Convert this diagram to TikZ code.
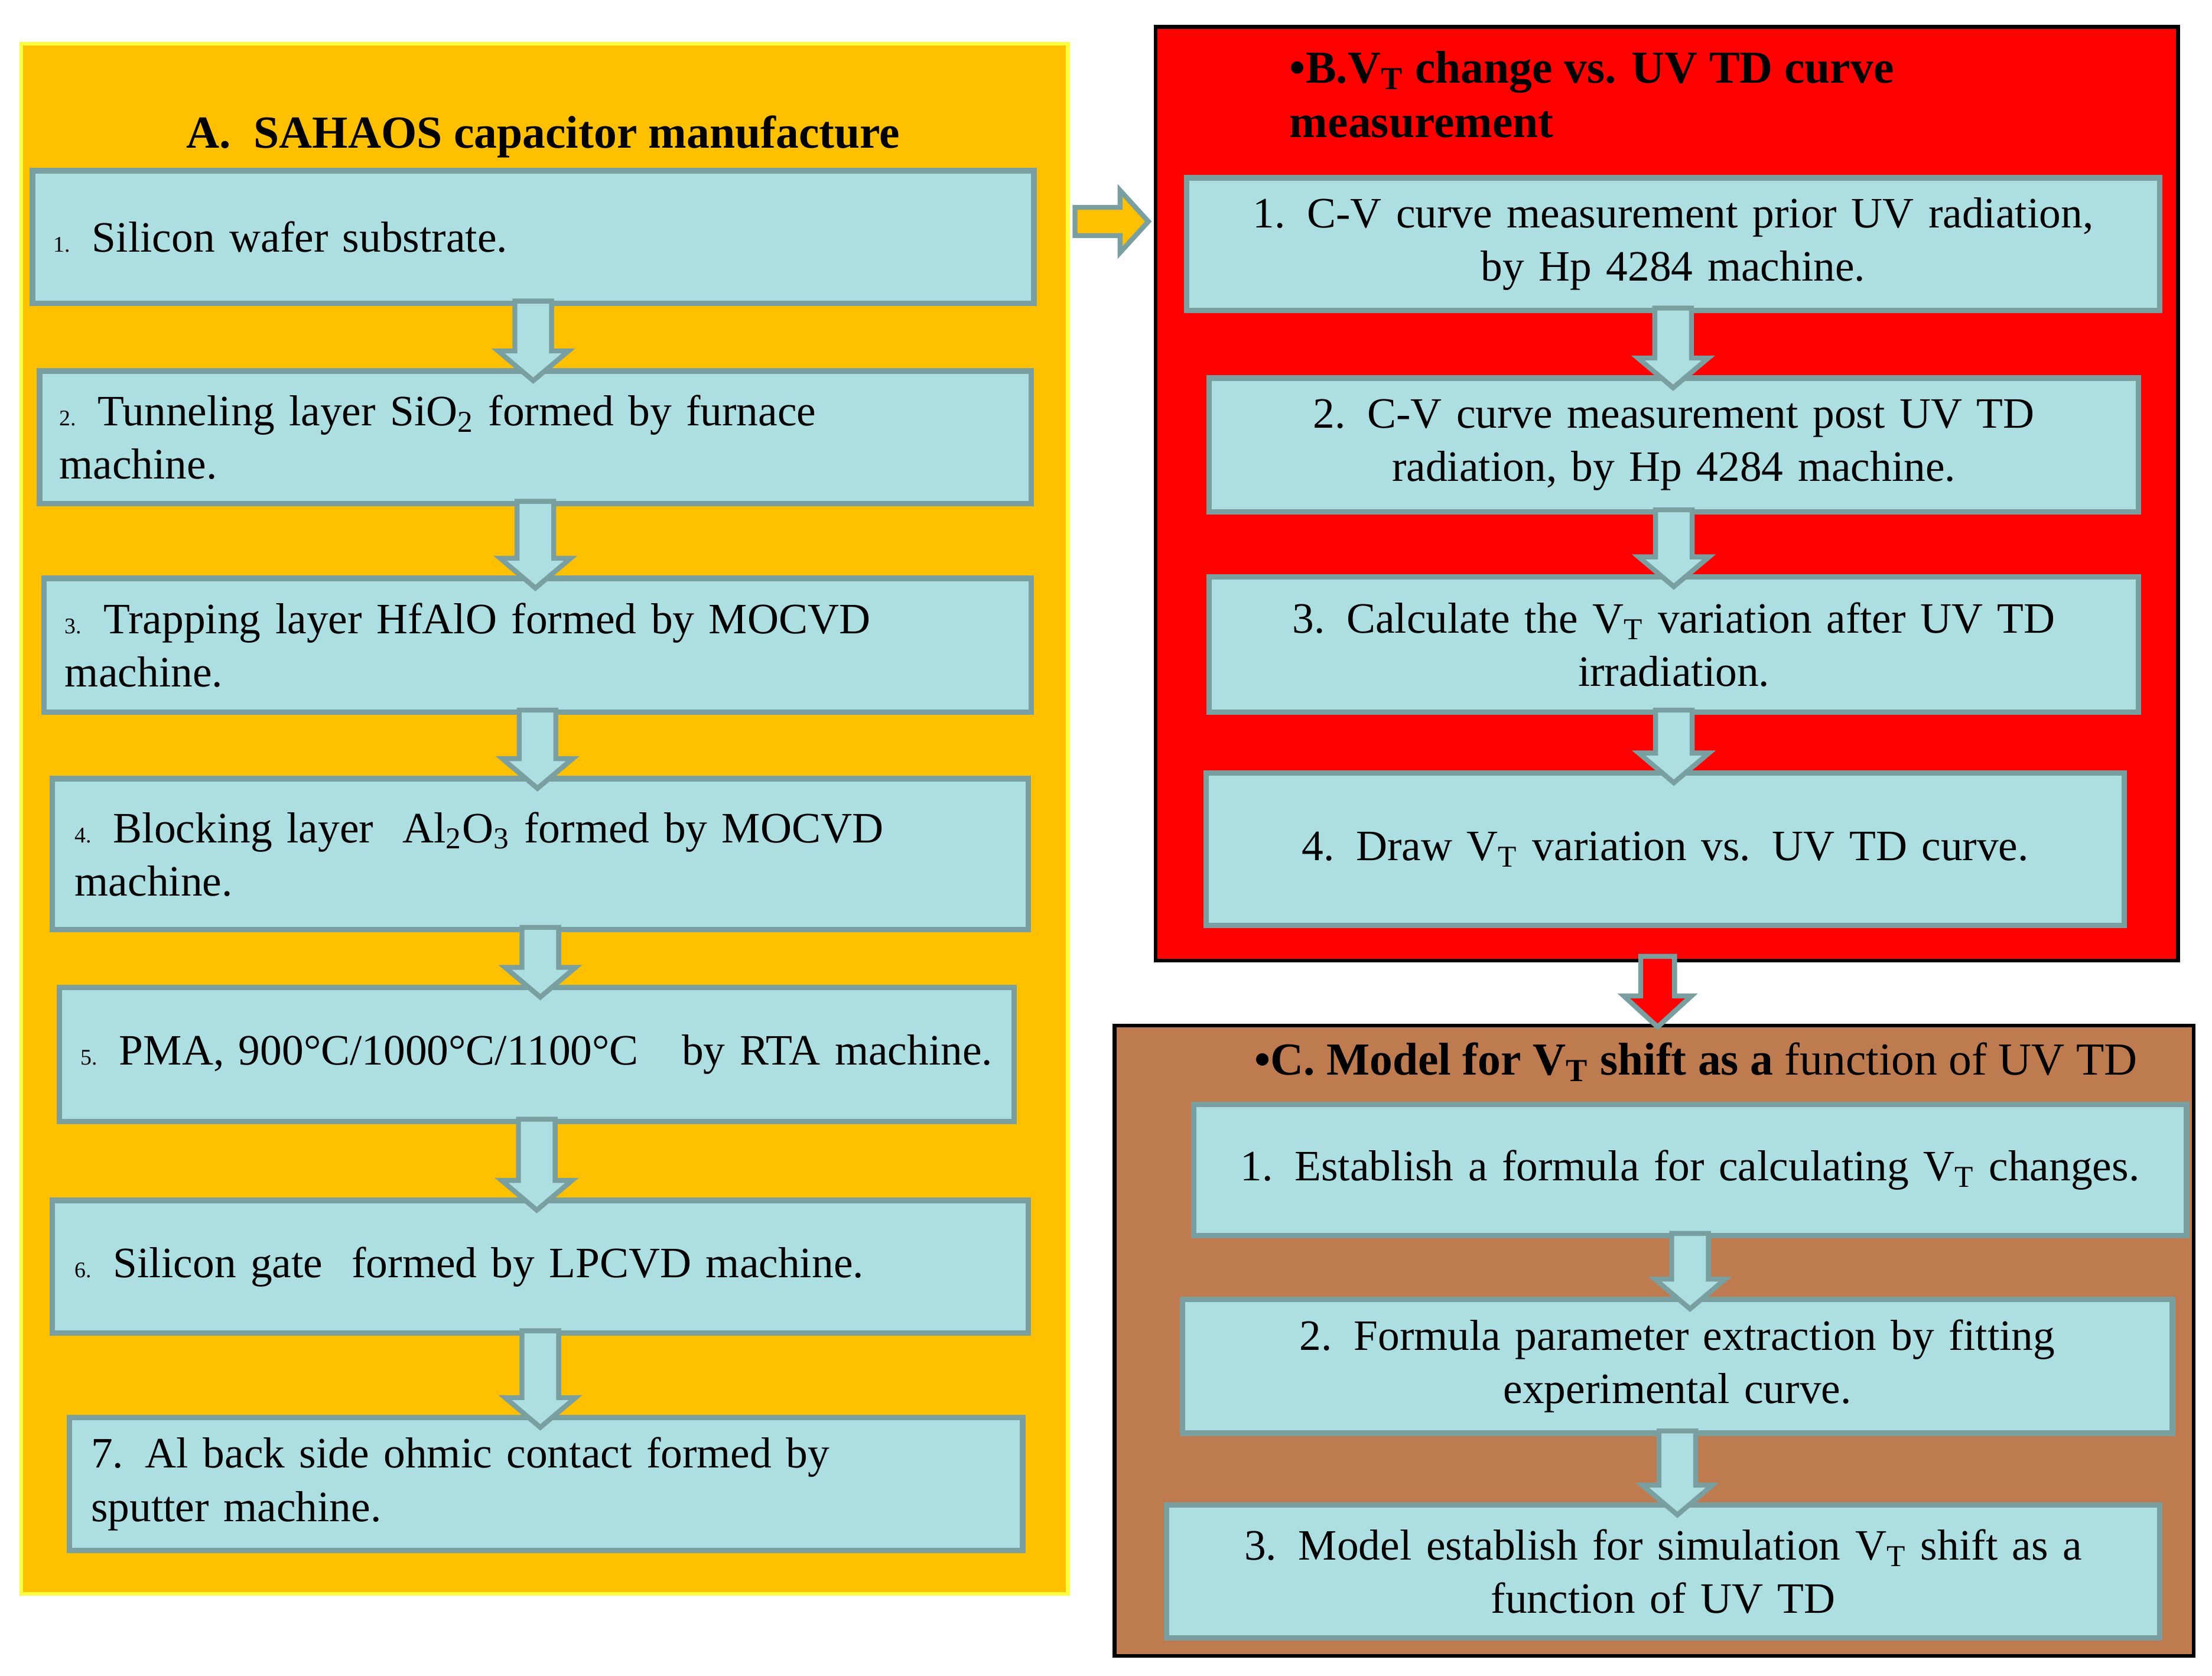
\documentclass[tikz,border=0pt]{standalone}
\usepackage{fontspec}
\setmainfont{Liberation Serif}
\usetikzlibrary{calc}
\definecolor{boxfill}{HTML}{ADDEE2}
\definecolor{boxline}{HTML}{7A9FA0}
\definecolor{orng}{HTML}{FFC000}
\definecolor{brwn}{HTML}{BF7B50}
\definecolor{yel}{HTML}{FFFF40}
\tikzset{
 box/.style={draw=boxline,fill=boxfill,line width=2.2pt,inner sep=0pt,font=\fontsize{17.5}{21.5}\selectfont},
 lbox/.style={box,align=left},
 cbox/.style={box,align=center},
 barrow/.style={draw=boxline,line width=2pt,line join=miter}
}
\newcommand\dnarr[3]{%
 \path let \p1=(#1.south), \p2=(#2.north) in
  [barrow,fill=#3] (\x1-7.4pt,\y1+2pt) -- (\x1+7.4pt,\y1+2pt) -- (\x1+7.4pt,\y2+7pt)
  -- (\x1+14.2pt,\y2+7pt) -- (\x1,\y2-5pt) -- (\x1-14.2pt,\y2+7pt) -- (\x1-7.4pt,\y2+7pt) -- cycle;}
\begin{document}
\begin{tikzpicture}[x=0.02cm,y=-0.02cm]
\useasboundingbox (0,0) rectangle (1568,1188);
% panels
\node[draw=yel,fill=orng,line width=1.5pt,minimum width=14.84cm,minimum height=21.98cm,inner sep=0pt] (pa) at (386,580.5) {};
\node[draw=black,fill=red,line width=1.5pt,minimum width=14.5cm,minimum height=13.24cm,inner sep=0pt] (pb) at (1181.5,350) {};
\node[draw=black,fill=brwn,line width=1.5pt,minimum width=15.3cm,minimum height=8.94cm,inner sep=0pt] (pc) at (1172.5,950.5) {};
% titles
\node[font=\fontsize{18.5}{22}\selectfont\bfseries] (ta) at (385,97) {A.\ \ SAHAOS capacitor manufacture};
\node[font=\fontsize{18.5}{22}\selectfont\bfseries,align=left,anchor=north west] (tb) at (908,30) {•B.V\textsubscript{T} change vs. UV TD curve\\measurement};
\node[font=\fontsize{18.5}{22}\selectfont,anchor=west] (tc) at (883,753) {\textbf{•C. Model for V\textsubscript{T} shift as a} function of UV TD};
% A boxes
\node[lbox,minimum width=14.2cm,minimum height=1.88cm,text width=13.6cm] (a1) at (378,168) {{\small 1.} Silicon wafer substrate.\\[0.8cm]};
\node[lbox,minimum width=14.06cm,minimum height=1.88cm,text width=13.5cm] (a2) at (379.5,310) {{\small 2.} Tunneling layer SiO\textsubscript{2} formed by furnace\\machine.};
\node[lbox,minimum width=14.0cm,minimum height=1.9cm,text width=13.4cm] (a3) at (381,457.5) {{\small 3.} Trapping layer HfAlO formed by MOCVD\\machine.};
\node[lbox,minimum width=13.84cm,minimum height=2.14cm,text width=13.2cm] (a4) at (383,605.5) {{\small 4.} Blocking layer\ \ Al\textsubscript{2}O\textsubscript{3} formed by MOCVD\\machine.\\[0.3cm]};
\node[cbox,minimum width=13.54cm,minimum height=1.9cm,text width=13.3cm] (a5) at (380.5,747.5) {{\small 5.} PMA, 900°C/1000°C/1100°C\ \ \ by RTA machine.};
\node[lbox,minimum width=13.84cm,minimum height=1.88cm,text width=13.2cm] (a6) at (383,898) {{\small 6.} Silicon gate\ \ formed by LPCVD machine.};
\node[lbox,minimum width=13.52cm,minimum height=1.88cm,text width=12.9cm] (a7) at (387,1052) {7. Al back side ohmic contact formed by\\sputter machine.};
% B boxes
\node[cbox,minimum width=13.8cm,minimum height=1.88cm,text width=13.4cm] (b1) at (1186,173) {1. C-V curve measurement prior UV radiation,\\by Hp 4284 machine.};
\node[cbox,minimum width=13.18cm,minimum height=1.9cm,text width=12.9cm] (b2) at (1186.5,315.5) {2. C-V curve measurement post UV TD\\radiation, by Hp 4284 machine.};
\node[cbox,minimum width=13.18cm,minimum height=1.92cm,text width=12.9cm] (b3) at (1186.5,457) {3. Calculate the V\textsubscript{T} variation after UV TD\\irradiation.};
\node[cbox,minimum width=13.02cm,minimum height=2.16cm,text width=12.7cm] (b4) at (1180.5,602) {4. Draw V\textsubscript{T} variation vs. UV TD curve.};
% C boxes
\node[cbox,minimum width=14.08cm,minimum height=1.86cm,text width=13.9cm] (c1) at (1198,829.5) {1. Establish a formula for calculating V\textsubscript{T} changes.};
\node[cbox,minimum width=14.04cm,minimum height=1.9cm,text width=13.7cm] (c2) at (1189,968.5) {2. Formula parameter extraction by fitting\\experimental curve.};
\node[cbox,minimum width=14.08cm,minimum height=1.88cm,text width=13.7cm] (c3) at (1179,1114) {3. Model establish for simulation V\textsubscript{T} shift as a\\function of UV TD};
% vertical block arrows
\dnarr{a1}{a2}{boxfill}
\dnarr{a2}{a3}{boxfill}
\dnarr{a3}{a4}{boxfill}
\dnarr{a4}{a5}{boxfill}
\dnarr{a5}{a6}{boxfill}
\dnarr{a6}{a7}{boxfill}
\dnarr{b1}{b2}{boxfill}
\dnarr{b2}{b3}{boxfill}
\dnarr{b3}{b4}{boxfill}
\dnarr{c1}{c2}{boxfill}
\dnarr{c2}{c3}{boxfill}
% B -> C arrow (red)
\coordinate (bc1) at (1175,678);
\coordinate (bc2) at (1175,728);
\draw[barrow,fill=red] ($(bc1)+(-12,0)$) -- ($(bc1)+(12,0)$) -- ($(bc2)+(12,-22)$) -- ($(bc2)+(24,-22)$) -- (bc2) -- ($(bc2)+(-24,-22)$) -- ($(bc2)+(-12,-22)$) -- cycle;
% A -> B arrow (orange)
\coordinate (ab1) at (762,157);
\coordinate (ab2) at (814,157);
\draw[barrow,fill=orng] ($(ab1)+(0,-10)$) -- ($(ab2)+(-20,-10)$) -- ($(ab2)+(-20,-22)$) -- (ab2) -- ($(ab2)+(-20,22)$) -- ($(ab2)+(-20,10)$) -- ($(ab1)+(0,10)$) -- cycle;
\end{tikzpicture}
\end{document}
